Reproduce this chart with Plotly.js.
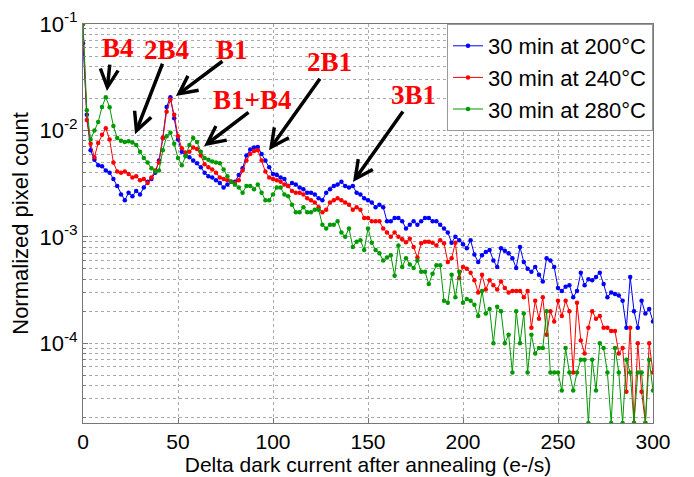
<!DOCTYPE html>
<html><head><meta charset="utf-8">
<script src="https://cdn.plot.ly/plotly-3.0.1.min.js"></script>
<style>html,body{margin:0;padding:0;background:#fff}#plot{width:694px;height:477px}</style>
</head><body><div id="plot"></div>
<script>
// Delta dark current bins (e-/s), step 2
const xBins = [];
for (let i = 0; i <= 300; i += 2) xBins.push(i);

const seriesNames = ['30 min at 200°C', '30 min at 240°C', '30 min at 280°C'];

const blue200 = [
0.066,0.014,0.0065,0.0053,0.0047,0.0046,0.0042,0.0040,0.0035,0.0030,
0.0025,0.0022,0.0026,0.0024,0.0027,0.0025,0.0029,0.0033,0.0035,0.0040,
0.0052,0.0085,0.0166,0.0205,0.0130,0.0082,0.0063,0.0058,0.0056,0.0052,
0.0049,0.0045,0.0040,0.0037,0.0036,0.0034,0.0032,0.0029,0.0031,0.0033,
0.0033,0.0038,0.0044,0.0058,0.0066,0.0069,0.0070,0.0060,0.0052,0.0045,
0.0039,0.0038,0.0036,0.0035,0.0030,0.0032,0.0031,0.0029,0.0028,0.0026,
0.0026,0.0025,0.0023,0.0022,0.0026,0.0028,0.0030,0.0031,0.0033,0.0030,
0.0029,0.0030,0.0026,0.0025,0.0023,0.0022,0.0021,0.0019,0.0020,0.0019,
0.0014,0.0014,0.0015,0.0015,0.0014,0.0012,0.0013,0.0014,0.0013,0.0014,
0.0015,0.0015,0.0014,0.0014,0.0013,0.0012,0.0011,0.00088,0.0010,0.00093,
0.00085,0.00078,0.00093,0.00068,0.00058,0.00067,0.00072,0.00075,0.00060,0.00052,
0.00078,0.00074,0.00070,0.00063,0.00051,0.00080,0.00058,0.00050,0.00047,0.00052,
0.00044,0.00038,0.00063,0.00060,0.00052,0.00033,0.00031,0.00034,0.00035,0.00027,
0.00031,0.00046,0.00035,0.00040,0.00039,0.00042,0.00046,0.00036,0.00027,0.00030,
0.00029,0.00028,0.00025,0.00014,0.00042,0.00020,0.00014,0.00025,0.00019,0.00021,
0.00016];

const red240 = [
0.1,0.0125,0.0075,0.0056,0.0076,0.0091,0.0105,0.0082,0.0050,0.0041,
0.0040,0.0041,0.0039,0.0036,0.0037,0.0034,0.0035,0.0032,0.0036,0.0042,
0.0050,0.0085,0.0150,0.0195,0.0140,0.0088,0.0068,0.0062,0.0063,0.0069,
0.0067,0.0058,0.0048,0.0045,0.0043,0.0040,0.0036,0.0035,0.0034,0.0033,
0.0032,0.0034,0.0042,0.0052,0.0060,0.0064,0.0065,0.0052,0.0041,0.0036,
0.0035,0.0034,0.0033,0.0031,0.0030,0.0027,0.0026,0.0026,0.0025,0.0023,
0.0022,0.0021,0.0019,0.0017,0.0018,0.0021,0.0022,0.0023,0.0022,0.0021,
0.0020,0.0018,0.0019,0.0018,0.0015,0.0015,0.0014,0.0014,0.0014,0.0012,
0.0011,0.0010,0.0011,0.0010,0.00095,0.00089,0.00096,0.00080,0.00064,0.00087,
0.00090,0.00090,0.00088,0.00083,0.00093,0.00087,0.00058,0.00063,0.00088,0.00041,
0.00052,0.00050,0.00046,0.00039,0.00030,0.00044,0.00032,0.00039,0.00035,0.00032,
0.00038,0.00033,0.00030,0.00031,0.00031,0.00031,0.00027,0.00031,0.00014,0.00025,
0.00017,0.00027,0.00012,0.00020,0.00016,0.00025,0.00018,0.00025,0.00020,0.000053,
0.00024,0.000106,0.00008,0.00014,0.00020,0.00017,0.00018,0.00014,0.00014,0.00013,
0.00013,0.00008,0.00009,0.000035,0.00014,0.0000178,0.00010,0.000035,0.0000178,0.00010,
0.000053];

const green280 = [
0.1,0.0155,0.0082,0.0100,0.0120,0.0166,0.0205,0.0165,0.0110,0.0085,
0.0080,0.0078,0.0079,0.0077,0.0073,0.0063,0.0055,0.0050,0.0044,0.0041,
0.0042,0.0065,0.0088,0.0095,0.0075,0.0055,0.0047,0.0057,0.0073,0.0085,
0.0078,0.0063,0.0055,0.0053,0.0051,0.0050,0.0049,0.0043,0.0037,0.0033,
0.0031,0.0029,0.0026,0.0030,0.0030,0.0028,0.0031,0.0026,0.0022,0.0022,
0.0025,0.0029,0.0029,0.0025,0.0024,0.0020,0.0017,0.0017,0.0019,0.0017,
0.0017,0.0018,0.0018,0.0013,0.0012,0.0013,0.0013,0.0014,0.0011,0.0010,
0.0012,0.00080,0.00090,0.00093,0.00075,0.0012,0.00088,0.00075,0.00070,0.00060,
0.00064,0.00067,0.00043,0.00083,0.00052,0.00063,0.00055,0.00051,0.00060,0.00047,
0.00047,0.00036,0.00045,0.00054,0.00054,0.00025,0.00024,0.00044,0.00027,0.00047,
0.00024,0.00026,0.00025,0.00023,0.00018,0.00031,0.00019,0.00021,0.00010,0.00022,
0.00020,0.00010,0.00012,0.000053,0.00020,0.00010,0.00019,0.000053,0.00012,0.00008,
0.00009,0.00009,0.00020,0.000053,0.000053,0.000053,0.000036,0.00009,0.000053,0.000036,
0.000053,0.00007,0.00007,0.0000178,0.00007,0.000036,0.00010,0.00009,0.000053,0.0000178,
0.00009,0.000053,0.0000178,0.00007,0.000053,0.0000178,0.000053,0.000053,0.0000178,0.00007,
0.000036];

const xTickVals = [0, 50, 100, 150, 200, 250, 300];
const yTickVals = [1e-4, 1e-3, 1e-2, 1e-1];
const yTickText = ['10<sup>-4</sup>', '10<sup>-3</sup>', '10<sup>-2</sup>', '10<sup>-1</sup>'];

// peak labels with their text position and arrow tip
const peakLabels = ['B4', '2B4', 'B1', 'B1+B4', '2B1', '3B1'];
const labelX = [18.4, 44.2, 78.4, 89, 129.5, 173.7];
const labelY = [0.0594, 0.0569, 0.0569, 0.0193, 0.044, 0.0215];
const tipX = [12.6, 27.4, 48.9, 63.7, 97.9, 142.1];
const tipY = [0.0234, 0.0092, 0.0210, 0.0071, 0.0065, 0.00327];
const tailDX = [3, 28, 48, 46, 52, 51];
const tailDY = [-28, -72, -36, -35, -73, -72];

const colors = ['#0000ff', '#ff0000', '#009900'];
const ys = [blue200, red240, green280];
const traces = ys.map((y, i) => ({
  x: xBins, y: y, type: 'scatter', mode: 'lines+markers', name: seriesNames[i],
  line: {color: colors[i], width: 1},
  marker: {color: colors[i], size: 4.5},
}));

const minorVals = [];
for (let e = -5; e <= -2; e++) for (let m = 2; m <= 9; m++) minorVals.push(m * Math.pow(10, e));

const annotations = [];
for (let i = 0; i < peakLabels.length; i++) {
  annotations.push({x: tipX[i], y: Math.log10(tipY[i]), xref: 'x', yref: 'y', text: '',
    showarrow: true, arrowhead: 5, arrowsize: 1, arrowwidth: 3.5, arrowcolor: '#000',
    ax: tailDX[i], ay: tailDY[i], standoff: 0});
  annotations.push({x: labelX[i], y: Math.log10(labelY[i]), xref: 'x', yref: 'y', text: '<b>' + peakLabels[i] + '</b>',
    showarrow: false, font: {family: 'Liberation Serif, Times New Roman, serif', size: 27, color: '#ff0000'}});
}

const layout = {
  width: 694, height: 477,
  margin: {l: 83, r: 41, t: 24, b: 54},
  paper_bgcolor: '#fff', plot_bgcolor: '#fff',
  font: {family: 'Liberation Sans, Arial, sans-serif', size: 22, color: '#000'},
  showlegend: true,
  legend: {x: 1, xanchor: 'right', y: 1, yanchor: 'top', bgcolor: '#fff', bordercolor: '#999', borderwidth: 1,
    font: {size: 22}, tracegroupgap: 0, itemwidth: 30},
  xaxis: {range: [0, 300], tickvals: xTickVals, showgrid: true, gridcolor: '#aaa', griddash: 'dot',
    showline: true, mirror: true, linecolor: '#777', ticks: 'inside', ticklen: 5, tickcolor: '#777',
    zeroline: false, tickfont: {size: 21},
    title: {text: 'Delta dark current after annealing (e-/s)', font: {size: 21}, standoff: 5}},
  yaxis: {type: 'log', range: [-4.75, -1], tickvals: yTickVals, ticktext: yTickText,
    showgrid: true, gridcolor: '#aaa', griddash: 'dot',
    minor: {tickvals: minorVals, showgrid: true, gridcolor: '#aaa', griddash: 'dot', ticks: 'inside', ticklen: 3, tickcolor: '#777'},
    showline: true, mirror: true, linecolor: '#777', ticks: 'inside', ticklen: 5, tickcolor: '#777',
    zeroline: false, tickfont: {size: 22},
    title: {text: 'Normalized pixel count', font: {size: 22}, standoff: 4}},
  annotations: annotations
};

Plotly.newPlot('plot', traces, layout, {displayModeBar: false, staticPlot: true});
</script></body></html>
